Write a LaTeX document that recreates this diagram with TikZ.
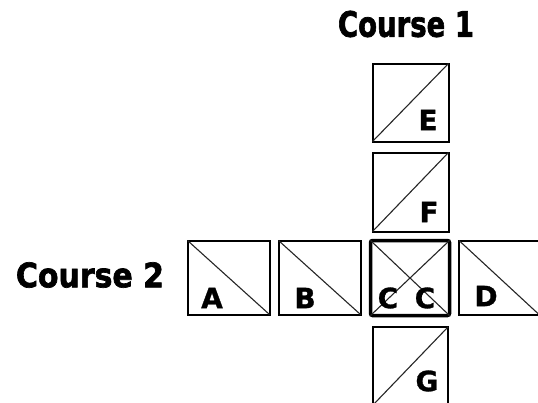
\documentclass[tikz,border=0pt]{standalone}
\usepackage{fontspec}
\setmainfont{DejaVu Sans}
\newfontfamily\heavyfont{DejaVu Sans Bold}[FakeBold=2]
\newfontfamily\letterfont{DejaVu Sans Bold}[FakeBold=1]
\usepackage{graphicx}
\begin{document}
\begin{tikzpicture}[x=1pt,y=-1pt,
  tile/.style={draw=black, line width=2pt, inner sep=0pt, outer sep=0pt},
  centretile/.style={tile, line width=3.5pt, rounded corners=2pt},
  diag/.style={draw=black!85, line width=1.1pt},
  letter/.style={inner sep=0pt, font=\letterfont\fontsize{28}{28}\selectfont},
  heading/.style={inner sep=0pt}
]
\useasboundingbox (0,0) rectangle (538,402);
\fill[white] (0,0) rectangle (538,402);

% headings
\node[heading] (c1) at (406,24) {\resizebox{136pt}{26pt}{\heavyfont Course 1}};
\node[heading] (c2) at (90,275) {\resizebox{148pt}{25pt}{\heavyfont Course 2}};

% tiles
\node[tile, minimum width=76pt, minimum height=78pt] (E) at (410.5,102.5) {};
\node[tile, minimum width=76pt, minimum height=79pt] (F) at (410.5,192) {};
\node[tile, minimum width=82pt, minimum height=74pt] (A) at (228.5,277.5) {};
\node[tile, minimum width=82pt, minimum height=74pt] (B) at (319.5,277.5) {};
\node[centretile, minimum width=79pt, minimum height=75pt] (C) at (410,278) {};
\node[tile, minimum width=80pt, minimum height=74pt] (D) at (499,277.5) {};
\node[tile, minimum width=75pt, minimum height=78pt] (G) at (410.5,366) {};

% diagonals
\draw[diag] (E.south west) -- (E.north east);
\draw[diag] (F.south west) -- (F.north east);
\draw[diag] (G.south west) -- (G.north east);
\draw[diag] (A.north west) -- (A.south east);
\draw[diag] (B.north west) -- (B.south east);
\draw[diag] (D.north west) -- (D.south east);
\draw[diag] (C.north west) -- (C.south east);
\draw[diag] (C.south west) -- (C.north east);

% letters
\node[letter] (lE) at (428,120) {E};
\node[letter] (lF) at (429,212) {F};
\node[letter] (lA) at (212,298) {A};
\node[letter] (lB) at (305,298) {B};
\node[letter] (lC1) at (388,298) {C};
\node[letter] (lC2) at (425,298) {C};
\node[letter] (lD) at (486,296) {D};
\node[letter] (lG) at (427,381) {G};
\end{tikzpicture}
\end{document}
